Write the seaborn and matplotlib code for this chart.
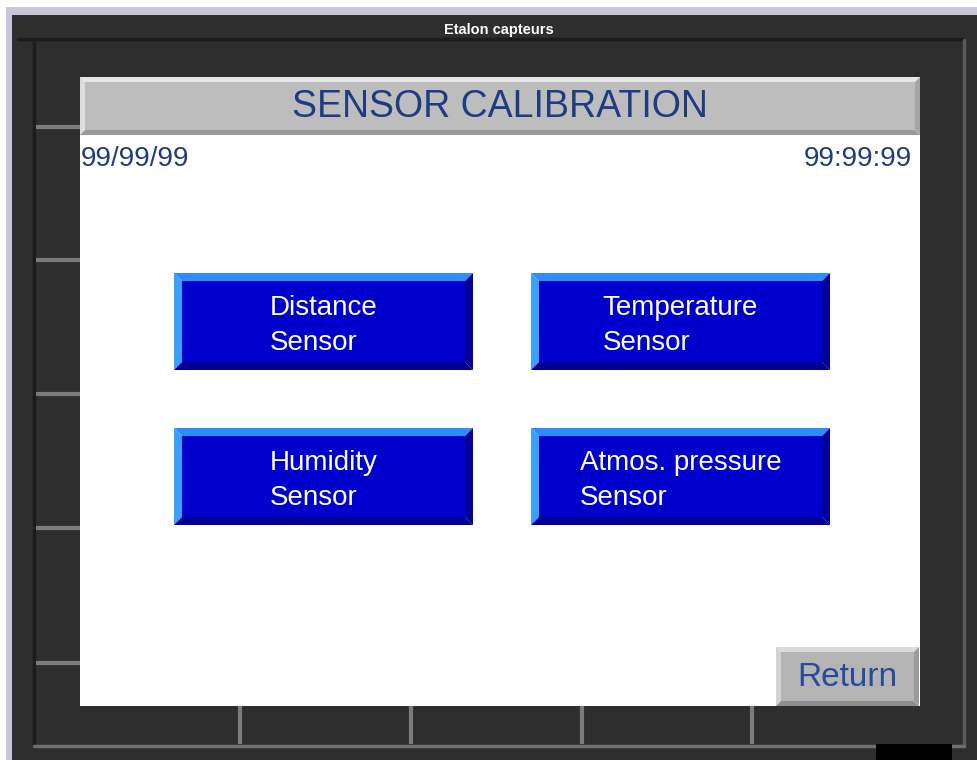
import matplotlib
matplotlib.use("Agg")
import matplotlib.pyplot as plt
from matplotlib.patches import Rectangle, Polygon
import seaborn as sns

# screen texts
window_title = "Etalon capteurs"
screen_title = "SENSOR CALIBRATION"
date_text = "99/99/99"
time_text = "99:99:99"
button_lines = [
    ["Distance", "Sensor"],
    ["Temperature", "Sensor"],
    ["Humidity", "Sensor"],
    ["Atmos. pressure", "Sensor"],
]
return_label = "Return"

sns.set_theme(style="white")
plt.rcParams["font.family"] = ["Liberation Sans", "DejaVu Sans"]

W, H = 978, 760
fig = plt.figure(figsize=(W / 100, H / 100), dpi=100)
fig.patch.set_facecolor("#2e2e2e")
ax = fig.add_axes([0, 0, 1, 1])
ax.set_xlim(0, W)
ax.set_ylim(H, 0)
ax.axis("off")

DARK = "#2e2e2e"
NAVY = "#1f3c82"


def rect(x, y, w, h, c, z=1):
    ax.add_patch(Rectangle((x, y), w, h, facecolor=c, edgecolor="none", zorder=z))


def bevel(x, y, w, h, face, top, left, bottom, right, b, z=3):
    ax.add_patch(Polygon([(x, y), (x + w, y), (x + w - b, y + b), (x + b, y + b)],
                         facecolor=top, edgecolor="none", zorder=z))
    ax.add_patch(Polygon([(x, y), (x + b, y + b), (x + b, y + h - b), (x, y + h)],
                         facecolor=left, edgecolor="none", zorder=z))
    ax.add_patch(Polygon([(x, y + h), (x + b, y + h - b), (x + w - b, y + h - b), (x + w, y + h)],
                         facecolor=bottom, edgecolor="none", zorder=z))
    ax.add_patch(Polygon([(x + w, y), (x + w, y + h), (x + w - b, y + h - b), (x + w - b, y + b)],
                         facecolor=right, edgecolor="none", zorder=z))
    rect(x + b, y + b, w - 2 * b, h - 2 * b, face, z + 0.1)


# window frame
rect(0, 0, W, H, DARK, 0)
rect(0, 0, W, 7, "white", 0.5)
rect(0, 7, W, 8, "#c8c6da", 0.5)
rect(0, 0, 6, H, "white", 0.5)
rect(6, 7, 6, H, "#c8c6da", 0.5)
ax.text(499, 30, window_title, color="white", fontsize=10.5, fontweight="bold",
        ha="center", va="center", zorder=5)

# inner bezel lines
ax.plot([18, 963], [39, 39], color="#1c1c1c", lw=2.5, zorder=1)
ax.plot([34, 34], [39, 746], color="#1c1c1c", lw=2.5, zorder=1)
ax.plot([964, 964], [40, 746], color="#5a5a5a", lw=2.5, zorder=1)
ax.plot([34, 964], [746, 746], color="#6e6e6e", lw=2.5, zorder=1)
for ty in [127, 260, 394, 528, 663]:
    ax.plot([36, 80], [ty, ty], color="#7c7c7c", lw=3, zorder=1, solid_capstyle="butt")
for tx in [240, 411, 582, 752]:
    ax.plot([tx, tx], [706, 744], color="#7c7c7c", lw=3, zorder=1, solid_capstyle="butt")
rect(876, 744, 76, 16, "black", 1)

# white screen
rect(80, 77, 840, 629, "white", 2)

# header bar
bevel(80, 77, 840, 58, "#bdbdbd", "#e6e6e6", "#dcdcdc", "#9a9a9a", "#a4a4a4", 5)
ax.text(500, 107, screen_title, color=NAVY, fontsize=27, ha="center", va="center", zorder=6)

# date / time
ax.text(81, 159, date_text, color=NAVY, fontsize=20, ha="left", va="center", zorder=6)
ax.text(912, 159, time_text, color=NAVY, fontsize=20, ha="right", va="center", zorder=6)

# sensor buttons
cols = [174, 531]
rows = [273, 428]
bw, bh = 299, 97
fig.canvas.draw()
renderer = fig.canvas.get_renderer()
for i, lines in enumerate(button_lines):
    bx = cols[i % 2]
    by = rows[i // 2]
    bevel(bx, by, bw, bh, "#0000cc", "#2f8cff", "#3aa0ff", "#00008e", "#000096", 8)
    t1 = ax.text(bx + bw / 2, by + 42, lines[0], color="white", fontsize=20,
                 ha="center", va="baseline", zorder=6)
    bb = t1.get_window_extent(renderer=renderer)
    left = ax.transData.inverted().transform((bb.x0, bb.y0))[0]
    ax.text(left, by + 77, lines[1], color="white", fontsize=20,
            ha="left", va="baseline", zorder=6)

# return button
bevel(776, 647, 143, 59, "#b4b4b4", "#dadada", "#d2d2d2", "#8e8e8e", "#999999", 5)
ax.text(847, 678, return_label, color="#264a9c", fontsize=24, ha="center", va="center", zorder=6)

fig.savefig("out.png", dpi=100, facecolor=fig.get_facecolor())
